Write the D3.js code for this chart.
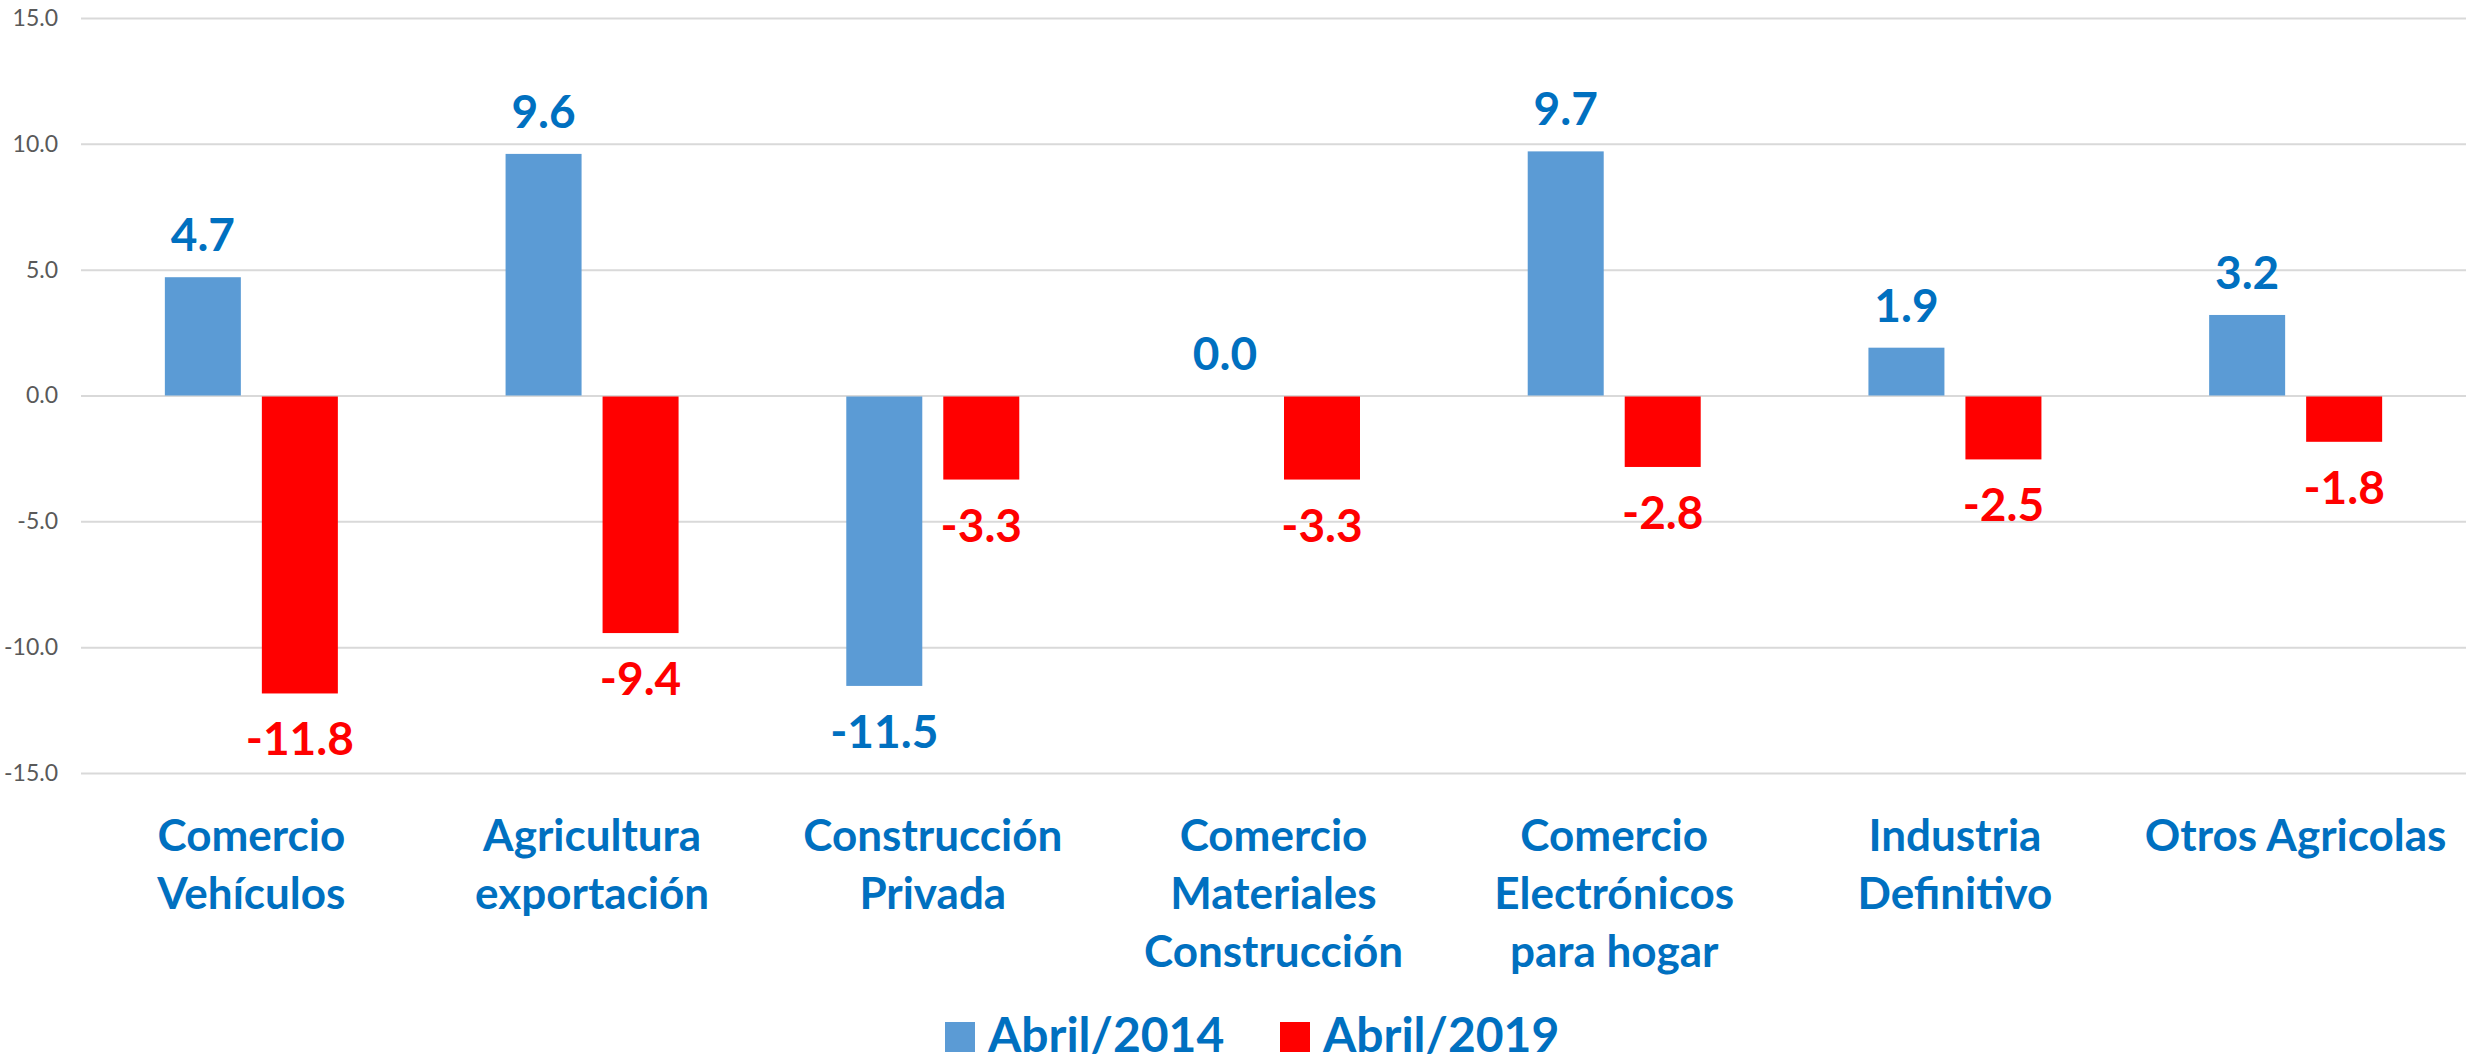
<!DOCTYPE html>
<html>
<head>
<meta charset="utf-8">
<script src="https://cdn.jsdelivr.net/npm/d3@7"></script>
<style>
  body { margin: 0; background: #fff; }
  svg text { font-family: Lato, "Noto Sans", sans-serif; }
</style>
</head>
<body>
<div id="chart"></div>
<script>
var categories = [
	["Comercio", "Vehículos"],
	["Agricultura", "exportación"],
	["Construcción", "Privada"],
	["Comercio", "Materiales", "Construcción"],
	["Comercio", "Electrónicos", "para hogar"],
	["Industria", "Definitivo"],
	["Otros Agricolas"]
];
var series = ["Abril/2014", "Abril/2019"];
var values2014 = [4.7, 9.6, -11.5, 0.0, 9.7, 1.9, 3.2];
var values2019 = [-11.8, -9.4, -3.3, -3.3, -2.8, -2.5, -1.8];
var yTicks = [-15, -10, -5, 0, 5, 10, 15];

var barColors = { "Abril/2014": "#5B9BD5", "Abril/2019": "#FF0000" };
var labelColors = { "Abril/2014": "#0070C0", "Abril/2019": "#FF0000" };

var W = 2471, H = 1061;
var plotL = 81, plotR = 2466, plotT = 18, plotB = 773;

// plain hyphen for negatives, like the original
var fmt = d3.formatLocale({ decimal: ".", thousands: ",", grouping: [3], currency: ["", ""], minus: "-" }).format('.1f');

var svg = d3.select('#chart').append('svg')
	.attr('width', W).attr('height', H);

var x0 = d3.scaleBand().domain(d3.range(categories.length)).range([plotL, plotR]);
var groupW = 173;
var x1 = d3.scaleBand().domain(series)
	.range([(x0.bandwidth() - groupW) / 2, (x0.bandwidth() + groupW) / 2])
	.paddingInner(21 / 97);
var y = d3.scaleLinear().domain([-15, 15]).range([plotB, plotT]);

// gridlines + tick labels
var yAxis = svg.append('g')
	.attr('transform', 'translate(' + plotL + ',0)')
	.call(d3.axisLeft(y).tickValues(yTicks).tickFormat(fmt)
		.tickSize(-(plotR - plotL)).tickPadding(23));
yAxis.select('.domain').remove();
yAxis.selectAll('line').attr('stroke', '#d9d9d9').attr('stroke-width', 2);
yAxis.selectAll('text').attr('fill', '#595959').attr('font-size', 23);

var rows = categories.map(function(c, i) {
	return { i: i, vals: [
		{ s: series[0], v: values2014[i] },
		{ s: series[1], v: values2019[i] }
	]};
});

var groups = svg.selectAll('g.cat').data(rows).enter().append('g')
	.attr('class', 'cat')
	.attr('transform', function(d) { return 'translate(' + x0(d.i) + ',0)'; });

groups.selectAll('rect').data(function(d) { return d.vals; }).enter().append('rect')
	.attr('x', function(d) { return x1(d.s); })
	.attr('width', x1.bandwidth())
	.attr('y', function(d) { return y(Math.max(0, d.v)) + (d.v < 0 ? 1 : 0); })
	.attr('height', function(d) { return Math.abs(y(d.v) - y(0)); })
	.attr('fill', function(d) { return barColors[d.s]; });

groups.selectAll('text.val').data(function(d) { return d.vals; }).enter().append('text')
	.attr('class', 'val')
	.attr('x', function(d) { return x1(d.s) + x1.bandwidth() / 2; })
	.attr('y', function(d) { return d.v < 0 ? y(d.v) + 63 : y(d.v) - 26; })
	.attr('text-anchor', 'middle')
	.attr('font-size', 46).attr('font-weight', 'bold')
	.attr('fill', function(d) { return labelColors[d.s]; })
	.text(function(d) { return fmt(d.v); });

// category labels
var catText = svg.selectAll('text.cat').data(categories).enter().append('text')
	.attr('class', 'cat')
	.attr('text-anchor', 'middle')
	.attr('font-size', 44).attr('font-weight', 'bold')
	.attr('fill', '#0070C0')
	.attr('transform', function(d, i) { return 'translate(' + (x0(i) + x0.bandwidth() / 2) + ',851)'; });
catText.selectAll('tspan').data(function(d) { return d; }).enter().append('tspan')
	.attr('x', 0)
	.attr('y', function(d, j) { return j * 58; })
	.text(function(d) { return d; });

// legend
var legendX = [945, 1280];
var legend = svg.selectAll('g.leg').data(series).enter().append('g')
	.attr('class', 'leg')
	.attr('transform', function(d, i) { return 'translate(' + legendX[i] + ',1022)'; });
legend.append('rect').attr('width', 30).attr('height', 30)
	.attr('fill', function(d) { return barColors[d]; });
legend.append('text').attr('x', 43).attr('y', 30)
	.attr('font-size', 48).attr('font-weight', 'bold').attr('fill', '#0070C0')
	.text(function(d) { return d; });
</script>
</body>
</html>
